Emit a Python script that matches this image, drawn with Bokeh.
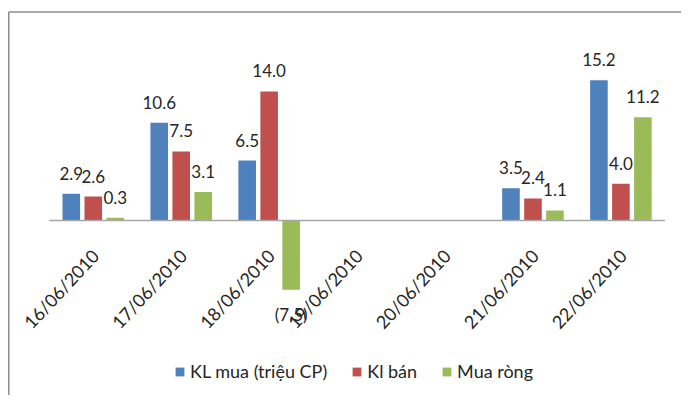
from bokeh.plotting import figure
from bokeh.models import ColumnDataSource, Range1d, Legend, LegendItem
from bokeh.core.properties import value
from bokeh.embed import file_html
from bokeh.resources import INLINE
import math

categories = ["16/06/2010", "17/06/2010", "18/06/2010", "19/06/2010",
              "20/06/2010", "21/06/2010", "22/06/2010"]
kl_mua = [2.9, 10.6, 6.5, None, None, 3.5, 15.2]
kl_ban = [2.6, 7.5, 14.0, None, None, 2.4, 4.0]
mua_rong = [0.3, 3.1, -7.5, None, None, 1.1, 11.2]
series_names = ["KL mua (triệu CP)", "Kl bán", "Mua ròng"]
colors = ["#4F81BD", "#C0504D", "#9BBB59"]

FONT = "Lato"
TEXT_COLOR = "#262626"

X0, X1 = -1.055, 6.689
Y0, Y1 = -18.95, 23.85

p = figure(width=681, height=395, output_backend="svg", toolbar_location=None,
           x_axis_location=None, y_axis_location=None,
           x_range=Range1d(X0, X1), y_range=Range1d(Y0, Y1),
           min_border_left=0, min_border_right=0, min_border_top=0, min_border_bottom=0)
p.outline_line_color = None
p.xgrid.visible = False
p.ygrid.visible = False
p.background_fill_color = "white"
p.border_fill_color = "white"

# chart-area border (top and left edges visible in the crop)
BX, BY = -0.961, 22.6
p.line(x=[BX, X1], y=[BY, BY], line_color="#8C8C8C", line_width=1.5)
p.line(x=[BX, BX], y=[Y0, BY], line_color="#8C8C8C", line_width=1.5)

offsets = [-0.25, 0.0, 0.25]
bar_w = 0.2
items = []
for vals, name, col, off in zip([kl_mua, kl_ban, mua_rong], series_names, colors, offsets):
    xs, ys, labels, yoffs, bases = [], [], [], [], []
    for i, v in enumerate(vals):
        if v is None:
            continue
        xs.append(i + off)
        ys.append(v)
        labels.append(f"{v:.1f}" if v >= 0 else f"({abs(v):.1f})")
        yoffs.append(-14 if v >= 0 else 14)
        bases.append("bottom" if v >= 0 else "top")
    src = ColumnDataSource(dict(x=xs, top=ys, label=labels, yoff=yoffs, base=bases))
    r = p.vbar(x="x", top="top", bottom=0, width=bar_w, source=src,
               fill_color=col, line_color=None)
    items.append(LegendItem(label=name, renderers=[r]))
    p.text(x="x", y="top", text="label", source=src, y_offset="yoff",
           text_baseline="base", text_align="center",
           text_font=value(FONT), text_font_size="17px", text_color=TEXT_COLOR)

# zero baseline across category span
n = len(categories)
p.line(x=[-0.5, n - 0.5], y=[0, 0], line_color="#A6A6A6", line_width=1.5)

# rotated category labels
lab_src = ColumnDataSource(dict(x=[i + 0.023 for i in range(n)], y=[-3.43] * n, t=categories))
p.text(x="x", y="y", text="t", source=lab_src, angle=math.radians(47),
       text_align="right", text_baseline="middle",
       text_font=value(FONT), text_font_size="18px", text_color=TEXT_COLOR)

legend = Legend(items=items, orientation="horizontal", location=(174, 13),
                glyph_width=11, glyph_height=11, label_standoff=5, spacing=24,
                padding=0, margin=0, border_line_color=None,
                background_fill_alpha=0,
                label_text_font=FONT, label_text_font_size="18px",
                label_text_color=TEXT_COLOR)
p.add_layout(legend, "center")

open("out.html", "w").write(file_html(p, INLINE))
